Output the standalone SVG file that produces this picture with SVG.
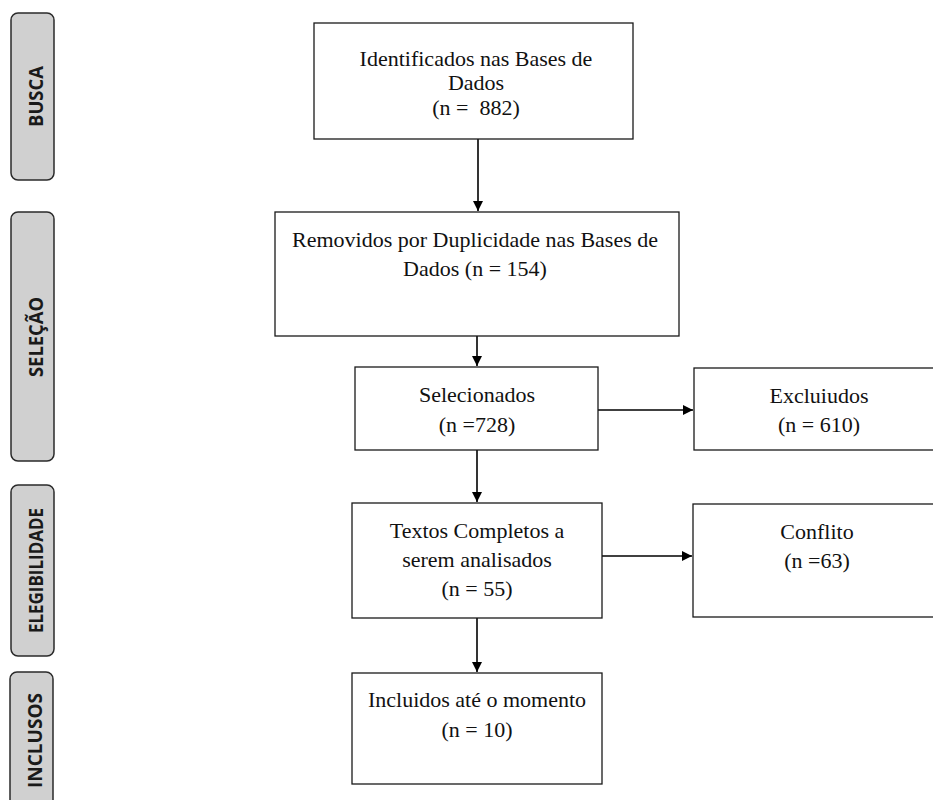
<svg xmlns="http://www.w3.org/2000/svg" width="933" height="800" viewBox="0 0 933 800">
<style>
.bg{fill:#ffffff}
.box{fill:#ffffff;stroke:#1a1a1a;stroke-width:1.3}
.stage{fill:#d0d0d0;stroke:#2a2a2a;stroke-width:1.5}
.t{font-family:"Liberation Serif","Times New Roman",serif;font-size:22px;fill:#111;text-anchor:middle}
.s{font-family:"Open Sans","Noto Sans",sans-serif;font-weight:bold;font-size:20px;fill:#1a1a1a;text-anchor:middle}
.c{fill:none;stroke:#000;stroke-width:1.6}
</style>
<defs>
<marker id="arr" markerUnits="userSpaceOnUse" markerWidth="11" markerHeight="11" refX="10" refY="5" orient="auto">
<path d="M0,0 L10,5 L0,10 Z" fill="#000"/>
</marker>
</defs>
<rect class="bg" x="0" y="0" width="933" height="800"/>

<g id="stage-busca">
<rect class="stage" x="11" y="13" width="43" height="167" rx="7"/>
<text class="s" transform="translate(42.5,96.5) rotate(-90)" textLength="61" lengthAdjust="spacingAndGlyphs">BUSCA</text>
</g>
<g id="stage-selecao">
<rect class="stage" x="11" y="212" width="43" height="249" rx="7"/>
<text class="s" transform="translate(42.5,337) rotate(-90)" textLength="80" lengthAdjust="spacingAndGlyphs">SELEÇÃO</text>
</g>
<g id="stage-elegibilidade">
<rect class="stage" x="11" y="485" width="43" height="171" rx="7"/>
<text class="s" transform="translate(42.5,570.5) rotate(-90)" textLength="125" lengthAdjust="spacingAndGlyphs">ELEGIBILIDADE</text>
</g>
<g id="stage-inclusos">
<rect class="stage" x="10" y="672" width="43" height="140" rx="7"/>
<text class="s" transform="translate(41.5,740.5) rotate(-90)" textLength="95" lengthAdjust="spacingAndGlyphs">INCLUSOS</text>
</g>

<g id="connectors">
<line class="c" x1="478" y1="139" x2="478" y2="211" marker-end="url(#arr)"/>
<line class="c" x1="477" y1="336" x2="477" y2="366" marker-end="url(#arr)"/>
<line class="c" x1="477" y1="450" x2="477" y2="502" marker-end="url(#arr)"/>
<line class="c" x1="477" y1="618" x2="477" y2="672" marker-end="url(#arr)"/>
<line class="c" x1="598" y1="410" x2="693" y2="410" marker-end="url(#arr)"/>
<line class="c" x1="602" y1="556" x2="692" y2="556" marker-end="url(#arr)"/>
</g>

<g id="identificados">
<rect class="box" x="314" y="23" width="319" height="116"/>
<text class="t" x="476" y="66">Identificados nas Bases de</text>
<text class="t" x="476" y="90">Dados</text>
<text class="t" x="476" y="115" xml:space="preserve">(n =  882)</text>
</g>
<g id="removidos">
<rect class="box" x="275" y="212" width="404" height="124"/>
<text class="t" x="475" y="247">Removidos por Duplicidade nas Bases de</text>
<text class="t" x="475" y="276">Dados (n = 154)</text>
</g>
<g id="selecionados">
<rect class="box" x="355" y="367" width="243" height="83"/>
<text class="t" x="477" y="402">Selecionados</text>
<text class="t" x="477" y="432">(n =728)</text>
</g>
<g id="excluidos">
<rect class="box" x="694" y="368" width="250" height="82"/>
<text class="t" x="819" y="403">Excluiudos</text>
<text class="t" x="819" y="432">(n = 610)</text>
</g>
<g id="textos">
<rect class="box" x="352" y="503" width="250" height="115"/>
<text class="t" x="477" y="538">Textos Completos a</text>
<text class="t" x="477" y="567">serem analisados</text>
<text class="t" x="477" y="596">(n = 55)</text>
</g>
<g id="conflito">
<rect class="box" x="693" y="504" width="250" height="113"/>
<text class="t" x="817" y="539">Conflito</text>
<text class="t" x="817" y="568">(n =63)</text>
</g>
<g id="incluidos">
<rect class="box" x="352" y="673" width="250" height="111"/>
<text class="t" x="477" y="707">Incluidos até o momento</text>
<text class="t" x="477" y="737">(n = 10)</text>
</g>
</svg>
